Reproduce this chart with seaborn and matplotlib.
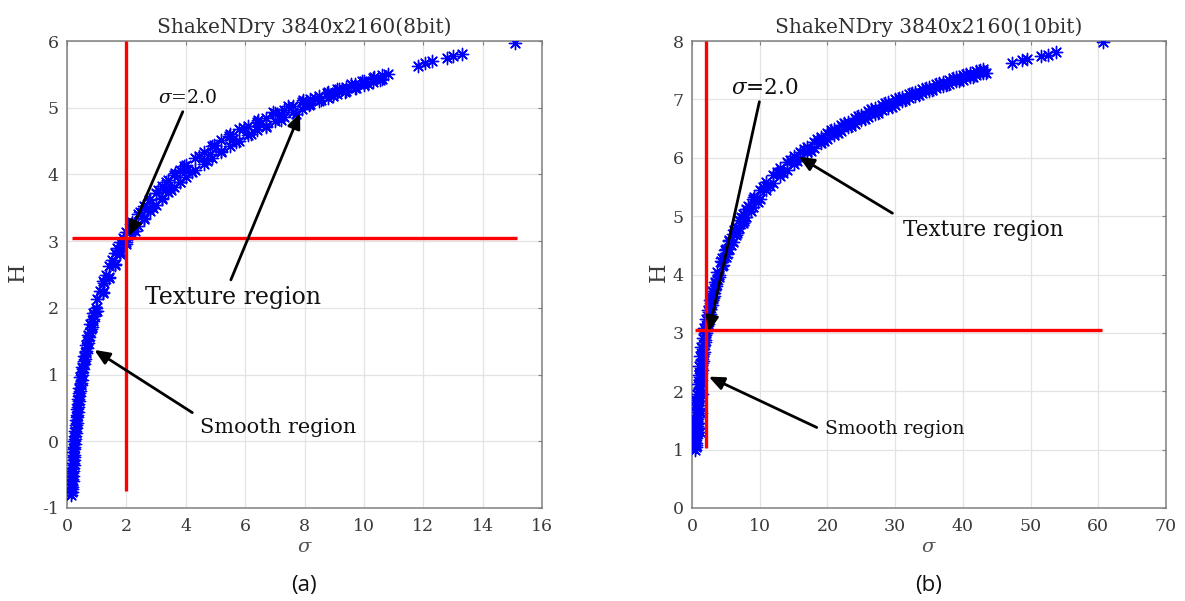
import matplotlib
matplotlib.use("Agg")
import matplotlib.pyplot as plt
import seaborn as sns
import pandas as pd

# ---------------- data ----------------
# panel (a): 8-bit — main scatter points
sigma_a = [0.14, 0.16, 0.15, 0.18, 0.17, 0.20, 0.19, 0.22, 0.21, 0.25, 0.23, 0.28, 0.26, 0.31,
           0.29, 0.34, 0.32, 0.38, 0.36, 0.42, 0.40, 0.47, 0.45, 0.52, 0.50, 0.58, 0.56, 0.65,
           0.63, 0.72, 0.70, 0.80, 0.78, 0.89, 0.87, 0.98,
           1.1, 1.2, 1.3, 1.4, 1.5, 1.6, 1.7, 1.8, 1.9, 2.0,
           2.15, 2.3, 2.45, 2.6, 2.75, 2.9, 3.05, 3.2, 3.35, 3.5, 3.65, 3.8, 3.95,
           4.2, 4.45, 4.7, 4.95, 5.2, 5.45, 5.7, 5.95, 6.2, 6.45, 6.7, 6.95, 7.2, 7.45, 7.7, 7.95,
           8.15, 8.35, 8.55, 8.75, 8.95, 9.15, 9.35, 9.55, 9.75, 9.95, 10.15, 10.35, 10.55, 10.8,
           1.25, 1.75, 2.2, 2.7, 3.3, 4.0, 4.8, 5.6, 6.4, 7.2, 8.0, 9.0, 10.0,
           11.83, 12.06, 12.28, 12.79, 13.01, 13.29, 15.09]
h_a = [-0.80, -0.72, -0.64, -0.56, -0.48, -0.40, -0.32, -0.24, -0.16, -0.08, 0.00, 0.08, 0.16, 0.24,
       0.32, 0.40, 0.48, 0.56, 0.64, 0.72, 0.80, 0.88, 0.96, 1.04, 1.12, 1.20, 1.28, 1.36,
       1.44, 1.52, 1.60, 1.68, 1.76, 1.84, 1.92, 2.00,
       2.26, 2.24, 2.50, 2.47, 2.71, 2.66, 2.89, 2.83, 3.05, 2.98,
       3.25, 3.15, 3.44, 3.33, 3.61, 3.49, 3.76, 3.63, 3.89, 3.76, 4.02, 3.88, 4.13,
       4.04, 4.28, 4.20, 4.44, 4.35, 4.58, 4.48, 4.70, 4.60, 4.82, 4.71, 4.93, 4.82, 5.03, 4.91, 5.12,
       5.04, 5.15, 5.11, 5.22, 5.17, 5.28, 5.24, 5.35, 5.30, 5.40, 5.35, 5.46, 5.41, 5.50,
       2.37, 2.86, 3.19, 3.48, 3.77, 4.05, 4.31, 4.53, 4.73, 4.90, 5.05, 5.22, 5.37,
       5.62, 5.67, 5.70, 5.74, 5.78, 5.80, 5.97]
# panel (a): points filling the steep low part of the band
sigma_a_low = [0.17, 0.18, 0.19, 0.20, 0.21, 0.22, 0.23, 0.24, 0.25, 0.26, 0.28, 0.29, 0.31, 0.32,
               0.34, 0.36, 0.38, 0.40, 0.42, 0.44, 0.46, 0.49, 0.51, 0.54, 0.57, 0.60, 0.63, 0.67,
               0.70, 0.74, 0.78, 0.83, 0.87, 0.92, 0.97]
h_a_low = [-0.76, -0.68, -0.60, -0.52, -0.44, -0.36, -0.28, -0.20, -0.12, -0.04, 0.04, 0.12, 0.20,
           0.28, 0.36, 0.44, 0.52, 0.60, 0.68, 0.76, 0.84, 0.92, 1.00, 1.08, 1.16, 1.24, 1.32, 1.40,
           1.48, 1.56, 1.64, 1.72, 1.80, 1.88, 1.96]
# panel (a): upper and lower edges of the band
sigma_a_band = [1.0, 1.2, 1.4, 1.6, 1.8, 2.0, 2.2, 2.4, 2.6, 2.8, 3.0, 3.2, 3.4, 3.6, 3.8, 4.0,
                4.3, 4.6, 4.9, 5.2, 5.5, 5.8, 6.1, 6.4, 6.7, 7.0, 7.3, 7.6, 7.9, 8.2, 8.5, 8.8,
                9.1, 9.4, 9.7, 10.0, 10.3, 10.6]
h_a_upper = [2.14, 2.40, 2.63, 2.82, 2.99, 3.14, 3.28, 3.40, 3.52, 3.63, 3.72, 3.82, 3.91, 3.99,
             4.07, 4.14, 4.24, 4.34, 4.43, 4.52, 4.60, 4.68, 4.73, 4.79, 4.85, 4.92, 4.97, 5.03,
             5.08, 5.13, 5.18, 5.23, 5.28, 5.31, 5.36, 5.40, 5.45, 5.49]
h_a_lower = [1.96, 2.22, 2.45, 2.64, 2.81, 2.96, 3.10, 3.22, 3.34, 3.45, 3.54, 3.64, 3.73, 3.81,
             3.89, 3.96, 4.06, 4.16, 4.25, 4.34, 4.42, 4.50, 4.59, 4.67, 4.73, 4.80, 4.86, 4.93,
             4.98, 5.05, 5.10, 5.15, 5.20, 5.25, 5.30, 5.34, 5.39, 5.43]

# panel (b): 10-bit — main scatter points
sigma_b = [0.48, 0.56, 0.50, 0.62, 0.55, 0.70, 0.58, 0.85, 0.62, 0.95, 0.68, 1.05, 0.76, 1.15,
           0.86, 1.30, 0.98, 1.42, 1.10, 1.56, 1.24, 1.72, 1.40, 1.90, 1.60, 2.10, 1.76, 2.34,
           2.06, 2.60, 2.32, 2.90, 2.62, 3.20, 2.95, 3.55, 3.33, 3.95, 3.75,
           1.2, 0.9, 1.3, 0.35, 1.5, 0.4,
           4.3, 4.6, 4.9, 5.2, 5.5, 5.8, 6.2, 6.7, 7.2, 7.7, 8.2, 8.7, 9.2, 9.7,
           10.5, 11.5, 12.5, 13.5, 14.5, 15.5, 16.5, 17.5, 18.5, 19.5, 20.5, 21.5, 22.5, 23.5,
           24.5, 25.5, 26.5, 27.5, 28.5, 29.5,
           30.5, 31.5, 32.5, 33.5, 34.5, 35.5, 36.5, 37.5, 38.5, 39.5, 40.5, 41.5, 42.5, 43.4,
           4.5, 5.0, 5.6, 6.5, 7.5, 8.5, 9.5, 11, 13, 15, 17, 19, 21, 23, 25, 27, 29, 31, 33,
           35, 37, 39, 41, 43,
           47.3, 48.7, 49.5, 51.5, 52.6, 53.7, 60.7]
h_b = [1.00, 1.08, 1.16, 1.24, 1.32, 1.40, 1.48, 1.56, 1.64, 1.72, 1.80, 1.88, 1.96, 2.04,
       2.12, 2.20, 2.28, 2.36, 2.44, 2.52, 2.60, 2.68, 2.76, 2.84, 2.92, 3.00, 3.08, 3.16,
       3.24, 3.32, 3.40, 3.48, 3.56, 3.64, 3.72, 3.80, 3.88, 3.96, 4.04,
       1.30, 1.45, 1.62, 1.55, 1.95, 1.85,
       4.23, 4.17, 4.42, 4.35, 4.59, 4.51, 4.76, 4.71, 4.98, 4.91, 5.17, 5.09, 5.33, 5.25,
       5.50, 5.51, 5.75, 5.74, 5.97, 5.94, 6.15, 6.12, 6.32, 6.28, 6.47, 6.42, 6.60, 6.54,
       6.72, 6.66, 6.84, 6.77, 6.94, 6.87,
       7.02, 6.99, 7.11, 7.08, 7.20, 7.16, 7.28, 7.24, 7.36, 7.31, 7.43, 7.39, 7.50, 7.45,
       4.22, 4.37, 4.53, 4.75, 4.96, 5.14, 5.30, 5.51, 5.75, 5.96, 6.14, 6.30, 6.44, 6.57,
       6.69, 6.80, 6.91, 7.00, 7.09, 7.18, 7.26, 7.34, 7.41, 7.48,
       7.62, 7.67, 7.70, 7.74, 7.76, 7.82, 7.99]
# panel (b): points filling the steep low part of the band
sigma_b_low = [0.60, 0.62, 0.65, 0.69, 0.72, 0.76, 0.79, 0.83, 0.87, 0.92, 0.96, 1.01, 1.07, 1.12,
               1.18, 1.24, 1.31, 1.37, 1.45, 1.52, 1.61, 1.69, 1.78, 1.88, 1.98, 2.09, 2.20, 2.32,
               2.45, 2.58, 2.72, 2.87, 3.03, 3.20, 3.37, 3.56, 3.76, 3.96]
h_b_low = [1.04, 1.12, 1.20, 1.28, 1.36, 1.44, 1.52, 1.60, 1.68, 1.76, 1.84, 1.92, 2.00, 2.08,
           2.16, 2.24, 2.32, 2.40, 2.48, 2.56, 2.64, 2.72, 2.80, 2.88, 2.96, 3.04, 3.12, 3.20,
           3.28, 3.36, 3.44, 3.52, 3.60, 3.68, 3.76, 3.84, 3.92, 4.00]
# panel (b): upper and lower edges of the band
sigma_b_band = [4.5, 5, 5.5, 6, 6.5, 7, 7.5, 8, 9, 10, 11, 12, 13, 14, 15, 16, 17, 18, 19, 20,
                21, 22, 23, 24, 25, 26, 27, 28, 29, 30, 31, 32, 33, 34, 35, 36, 37, 38, 39, 40,
                41, 42, 43]
h_b_upper = [4.29, 4.44, 4.58, 4.70, 4.82, 4.93, 5.03, 5.12, 5.29, 5.44, 5.58, 5.70, 5.82, 5.93,
             6.03, 6.10, 6.19, 6.27, 6.35, 6.42, 6.49, 6.56, 6.62, 6.68, 6.74, 6.80, 6.85, 6.91,
             6.96, 7.01, 7.04, 7.09, 7.13, 7.18, 7.22, 7.26, 7.30, 7.34, 7.38, 7.41, 7.45, 7.48,
             7.52]
h_b_lower = [4.15, 4.30, 4.44, 4.56, 4.68, 4.79, 4.89, 4.98, 5.15, 5.30, 5.44, 5.56, 5.68, 5.79,
             5.89, 6.00, 6.09, 6.17, 6.25, 6.32, 6.39, 6.46, 6.52, 6.58, 6.64, 6.70, 6.75, 6.81,
             6.86, 6.91, 6.97, 7.02, 7.06, 7.11, 7.15, 7.19, 7.23, 7.27, 7.31, 7.34, 7.38, 7.41,
             7.45]

# threshold lines
thr_sigma = 2.0
thr_h = 3.05
red_h_span_a = [0.18, 15.15]
red_v_span_a = [-0.74, 6.0]
red_h_span_b = [0.5, 60.5]
red_v_span_b = [1.03, 8.0]

titles = ["ShakeNDry 3840x2160(8bit)", "ShakeNDry 3840x2160(10bit)"]
xticks_a = [0, 2, 4, 6, 8, 10, 12, 14, 16]
yticks_a = [-1, 0, 1, 2, 3, 4, 5, 6]
xticks_b = [0, 10, 20, 30, 40, 50, 60, 70]
yticks_b = [0, 1, 2, 3, 4, 5, 6, 7, 8]
panel_tags = ["(a)", "(b)"]

# ---------------- style ----------------
sns.set_theme(style="white")
plt.rcParams["font.family"] = ["DejaVu Serif"]
plt.rcParams["mathtext.fontset"] = "dejavuserif"
plt.rcParams["axes.unicode_minus"] = False

W, H = 1185, 601
fig = plt.figure(figsize=(W / 100, H / 100), dpi=100)

def px_rect(x0, y0, x1, y1):
    return [x0 / W, 1 - y1 / H, (x1 - x0) / W, (y1 - y0) / H]

ax_a = fig.add_axes(px_rect(67, 41, 542, 508))
ax_b = fig.add_axes(px_rect(692, 41, 1166, 508))

blue = "#0000ff"
red = "#ff0000"
spine_col = "#808080"
text_col = "#3a3a3a"
asterisk = (8, 2, 0)

df_a = pd.DataFrame({
    "sigma": sigma_a + sigma_a_low + sigma_a_band + sigma_a_band,
    "H": h_a + h_a_low + h_a_upper + h_a_lower,
})
df_b = pd.DataFrame({
    "sigma": sigma_b + sigma_b_low + sigma_b_band + sigma_b_band,
    "H": h_b + h_b_low + h_b_upper + h_b_lower,
})

for ax, df in [(ax_a, df_a), (ax_b, df_b)]:
    sns.scatterplot(data=df, x="sigma", y="H", ax=ax, marker=asterisk, color=blue,
                    s=78, linewidth=1.0, zorder=3, legend=False)

ax_a.plot(red_h_span_a, [thr_h, thr_h], color=red, lw=2.4, zorder=4, solid_capstyle="butt")
ax_a.plot([thr_sigma, thr_sigma], red_v_span_a, color=red, lw=2.4, zorder=4, solid_capstyle="butt")
ax_b.plot(red_h_span_b, [thr_h, thr_h], color=red, lw=2.4, zorder=4, solid_capstyle="butt")
ax_b.plot([thr_sigma, thr_sigma], red_v_span_b, color=red, lw=2.4, zorder=4, solid_capstyle="butt")

for ax, xt, yt, title in [(ax_a, xticks_a, yticks_a, titles[0]),
                          (ax_b, xticks_b, yticks_b, titles[1])]:
    ax.set_xlim(xt[0], xt[-1])
    ax.set_ylim(yt[0], yt[-1])
    ax.set_xticks(xt)
    ax.set_yticks(yt)
    ax.grid(True, color="#e3e3e3", lw=0.9, zorder=0)
    ax.set_axisbelow(True)
    for sp in ax.spines.values():
        sp.set_color(spine_col)
        sp.set_linewidth(1.1)
        sp.set_visible(True)
    ax.tick_params(axis="both", direction="in", length=3, width=0.8, color=spine_col,
                   top=True, right=True, labelsize=12.5, labelcolor=text_col)
    ax.tick_params(axis="x", pad=7)
    ax.tick_params(axis="y", pad=6)
    ax.set_title(title, fontsize=14.5, color="#303030", pad=6)
    ax.set_xlabel(r"$\sigma$", fontsize=14, color="#555555", labelpad=2)
    ax.set_ylabel("H", fontsize=16, color=text_col)

ax_a.yaxis.set_label_coords(-0.08, 0.505)
ax_b.yaxis.set_label_coords(-0.046, 0.505)

arrow_kw = dict(arrowstyle="-|>,head_length=0.7,head_width=0.3", color="black",
                lw=2.0, mutation_scale=13, shrinkA=0, shrinkB=0)

def note(ax, txt, txt_xy, size, tail, head):
    ax.annotate("", xy=head, xytext=tail, arrowprops=arrow_kw, zorder=6)
    ax.text(txt_xy[0], txt_xy[1], txt, fontsize=size, color="#111111",
            ha="left", va="center", zorder=7)

# panel (a) annotations
note(ax_a, r"$\sigma$=2.0", (3.05, 5.14), 13.5, (3.90, 4.94), (2.08, 3.07))
note(ax_a, "Texture region", (2.63, 2.16), 17, (5.52, 2.42), (7.85, 4.92))
note(ax_a, "Smooth region", (4.48, 0.20), 15, (4.22, 0.43), (0.92, 1.37))

# panel (b) annotations
note(ax_b, r"$\sigma$=2.0", (5.69, 7.19), 15.5, (9.95, 6.96), (2.47, 3.02))
note(ax_b, "Texture region", (31.2, 4.76), 15.5, (29.6, 5.05), (15.76, 6.02))
note(ax_b, "Smooth region", (19.64, 1.35), 13.5, (18.42, 1.38), (2.47, 2.25))

fig.text(304 / W, 1 - 585 / H, panel_tags[0], ha="center", va="center",
         fontsize=16, family=["Open Sans", "DejaVu Sans"], color="#111111")
fig.text(929 / W, 1 - 585 / H, panel_tags[1], ha="center", va="center",
         fontsize=16, family=["Open Sans", "DejaVu Sans"], color="#111111")

fig.savefig("out.png", dpi=100)
